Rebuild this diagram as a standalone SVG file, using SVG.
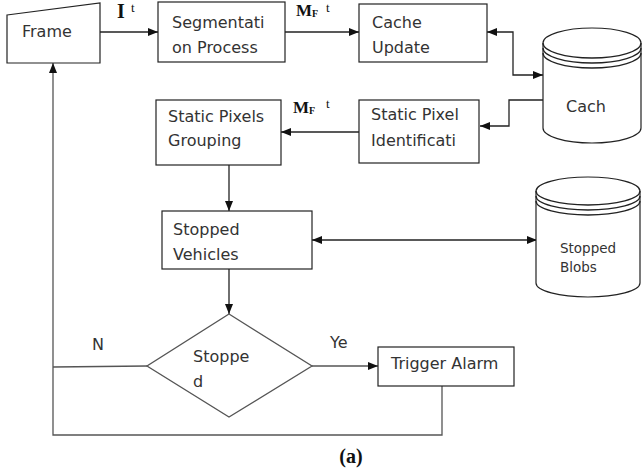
<svg xmlns="http://www.w3.org/2000/svg" width="643" height="470" viewBox="0 0 643 470">
<style>
.box{fill:#fff;stroke:#222;stroke-width:1.2}
.cyl{fill:#fff;stroke:#222;stroke-width:1.2}
.t{font-family:"DejaVu Sans","Liberation Sans",sans-serif;font-size:16px;fill:#333}
.ts{font-family:"DejaVu Sans","Liberation Sans",sans-serif;font-size:13.5px;fill:#333}
.m{font-family:"Liberation Serif","DejaVu Serif",serif;font-weight:bold;fill:#111}
.ms{font-family:"Liberation Serif","DejaVu Serif",serif;fill:#111}
.c{fill:none;stroke:#222;stroke-width:1.3}
.cg{fill:none;stroke:#555;stroke-width:1.3}
</style>
<defs>
<marker id="ah" markerUnits="userSpaceOnUse" markerWidth="10" markerHeight="8" refX="10" refY="4" orient="auto-start-reverse">
<path d="M0,0 L10,4 L0,8 z" fill="#111"/>
</marker>
</defs>
<g id="connectors">
<path class="c" d="M100,32 H158" marker-end="url(#ah)"/>
<path class="c" d="M285,32 H359" marker-end="url(#ah)"/>
<path class="c" d="M487,32 H513 V75 H543" marker-start="url(#ah)" marker-end="url(#ah)"/>
<path class="c" d="M543,100 H509 V126 H480" marker-end="url(#ah)"/>
<path class="c" d="M359,132 H281" marker-end="url(#ah)"/>
<path class="c" d="M229,165 V211" marker-end="url(#ah)"/>
<path class="c" d="M312,240 H537" marker-start="url(#ah)" marker-end="url(#ah)"/>
<path class="c" d="M229,269 V314" marker-end="url(#ah)"/>
<path class="cg" d="M312,366 H378" marker-end="url(#ah)"/>
<path class="cg" d="M147,366 L53,367"/>
<path class="cg" d="M442,386 V435 H53 V63" marker-end="url(#ah)"/>
</g>
<g id="label-it">
<text class="m" x="117" y="18" font-size="20">I</text>
<text class="ms" x="131" y="12" font-size="13">t</text>
</g>
<g id="label-mf1">
<text class="m" x="296" y="16" font-size="17">M<tspan font-size="10" dy="1">F</tspan></text>
<text class="ms" x="326" y="12" font-size="13">t</text>
</g>
<g id="label-mf2">
<text class="m" x="293" y="113" font-size="17">M<tspan font-size="10" dy="1">F</tspan></text>
<text class="ms" x="326" y="108" font-size="13">t</text>
</g>
<g id="label-n"><text class="t" x="92" y="350">N</text></g>
<g id="label-ye"><text class="t" x="330" y="348">Ye</text></g>
<g id="frame">
<polygon class="box" points="7,15 100,3 100,63 7,63"/>
<text class="t" x="22" y="37">Frame</text>
</g>
<g id="segmentation">
<rect class="box" x="158" y="2" width="127" height="60"/>
<text class="t" x="172" y="28">Segmentati</text>
<text class="t" x="172" y="53">on Process</text>
</g>
<g id="cache-update">
<rect class="box" x="359" y="4" width="128" height="58"/>
<text class="t" x="372" y="28">Cache</text>
<text class="t" x="372" y="53">Update</text>
</g>
<g id="cach">
<path class="cyl" d="M543,43 A49,15 0 0 1 641,43 V128 A49,15 0 0 1 543,128 Z"/>
<path class="c" d="M543,43 A49,15 0 0 0 641,43"/>
<path class="c" d="M543,48 A49,15 0 0 0 641,48"/>
<path class="c" d="M543,53 A49,15 0 0 0 641,53"/>
<text class="t" x="566" y="112" font-size="17">Cach</text>
</g>
<g id="static-pixel-identification">
<rect class="box" x="359" y="100" width="120" height="63"/>
<text class="t" x="371" y="120">Static Pixel</text>
<text class="t" x="371" y="146">Identificati</text>
</g>
<g id="static-pixels-grouping">
<rect class="box" x="156" y="100" width="125" height="65"/>
<text class="t" x="168" y="122">Static Pixels</text>
<text class="t" x="168" y="146">Grouping</text>
</g>
<g id="stopped-vehicles">
<rect class="box" x="162" y="211" width="150" height="58"/>
<text class="t" x="173" y="235">Stopped</text>
<text class="t" x="173" y="260">Vehicles</text>
</g>
<g id="stopped-blobs">
<path class="cyl" d="M536,191 A52,14 0 0 1 640,191 V283 A52,14 0 0 1 536,283 Z"/>
<path class="c" d="M536,191 A52,14 0 0 0 640,191"/>
<path class="c" d="M536,196 A52,14 0 0 0 640,196"/>
<path class="c" d="M536,201 A52,14 0 0 0 640,201"/>
<text class="ts" x="560" y="253">Stopped</text>
<text class="ts" x="560" y="272">Blobs</text>
</g>
<g id="stopped-decision">
<polygon fill="#fff" stroke="#555" stroke-width="1.3" points="229,314 312,366 229,417 147,366"/>
<text class="t" x="193" y="362">Stoppe</text>
<text class="t" x="193" y="387">d</text>
</g>
<g id="trigger-alarm">
<rect class="box" x="378" y="347" width="136" height="39"/>
<text class="t" x="391" y="369">Trigger Alarm</text>
</g>
<g id="caption">
<text class="m" x="351" y="463" font-size="20" text-anchor="middle">(a)</text>
</g>
</svg>
